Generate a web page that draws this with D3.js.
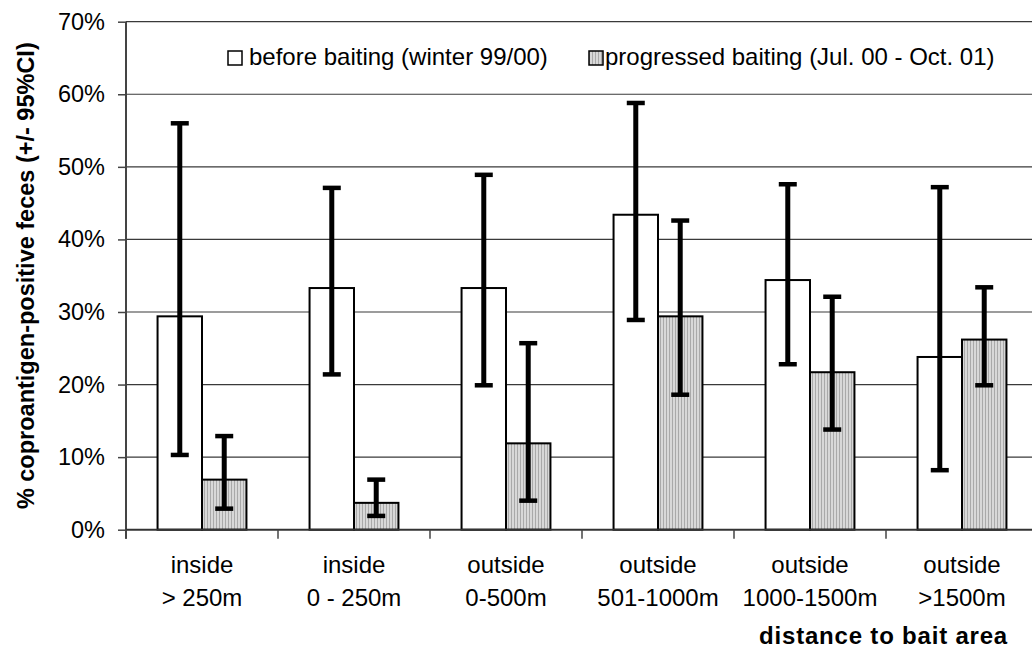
<!DOCTYPE html>
<html>
<head>
<meta charset="utf-8">
<script src="https://cdn.jsdelivr.net/npm/d3@7"></script>
<style>
  html, body { margin: 0; padding: 0; background: #fff; }
  svg text { font-family: "Liberation Sans", Arial, sans-serif; }
</style>
</head>
<body>
<div id="chart"></div>
<script>
// data source
const categories = [
  ["inside", "> 250m"],
  ["inside", "0 - 250m"],
  ["outside", "0-500m"],
  ["outside", "501-1000m"],
  ["outside", "1000-1500m"],
  ["outside", ">1500m"]
];
const seriesNames = ["before baiting (winter 99/00)", "progressed baiting (Jul. 00 - Oct. 01)"];
const before = [29.4, 33.3, 33.3, 43.4, 34.4, 23.8];
const beforeLow = [10.3, 21.4, 19.9, 28.9, 22.8, 8.2];
const beforeHigh = [56.0, 47.1, 48.9, 58.8, 47.6, 47.2];
const after = [6.9, 3.7, 11.9, 29.4, 21.7, 26.2];
const afterLow = [2.9, 1.9, 4.0, 18.6, 13.8, 19.9];
const afterHigh = [12.9, 6.9, 25.7, 42.6, 32.1, 33.4];
const yTicks = [0, 10, 20, 30, 40, 50, 60, 70];

const width = 1032, height = 651;
const margin = { left: 126, top: 21.7, bottom: 121, right: -6 };

const svg = d3.select("#chart").append("svg")
  .attr("width", width)
  .attr("height", height);

const defs = svg.append("defs");
const pat = defs.append("pattern")
  .attr("id", "stripes")
  .attr("patternUnits", "userSpaceOnUse")
  .attr("width", 3)
  .attr("height", 10);
pat.append("rect").attr("width", 3).attr("height", 10).attr("fill", "#d8d8d8");
pat.append("rect").attr("width", 1).attr("height", 10).attr("fill", "#a9a9a9");

const x = d3.scaleBand()
  .domain(d3.range(categories.length))
  .range([margin.left, width - margin.right]);
const xs = d3.scaleBand()
  .domain([0, 1])
  .range([0, x.bandwidth()])
  .paddingOuter(0.71);
const y = d3.scaleLinear()
  .domain([0, 70])
  .range([height - margin.bottom - 0.3, margin.top]);

const rows = categories.map((c, i) => ({
  i,
  vals: [
    { s: 0, v: before[i], lo: beforeLow[i], hi: beforeHigh[i] },
    { s: 1, v: after[i], lo: afterLow[i], hi: afterHigh[i] }
  ]
}));

// gridlines
svg.append("g")
  .selectAll("line")
  .data(yTicks.filter(t => t > 0))
  .enter()
  .append("line")
  .attr("x1", margin.left)
  .attr("x2", width - margin.right)
  .attr("y1", d => y(d))
  .attr("y2", d => y(d))
  .attr("stroke", "#3a3a3a")
  .attr("stroke-width", 1.2);

// bars
const groups = svg.append("g")
  .selectAll("g")
  .data(rows)
  .enter()
  .append("g")
  .attr("transform", d => `translate(${x(d.i)},0)`);

groups.selectAll("rect")
  .data(d => d.vals)
  .enter()
  .append("rect")
  .attr("x", d => xs(d.s))
  .attr("width", xs.bandwidth())
  .attr("y", d => y(d.v))
  .attr("height", d => y(0) - y(d.v))
  .attr("fill", d => d.s === 0 ? "#fff" : "url(#stripes)")
  .attr("stroke", "#000")
  .attr("stroke-width", 2);

// error bars
const err = groups.selectAll("g.err")
  .data(d => d.vals)
  .enter()
  .append("g")
  .attr("class", "err")
  .attr("transform", d => `translate(${xs(d.s) + xs.bandwidth() / 2},0)`);
err.append("line")
  .attr("y1", d => y(d.lo))
  .attr("y2", d => y(d.hi))
  .attr("stroke", "#000")
  .attr("stroke-width", 5);
err.selectAll("line.cap")
  .data(d => [d.lo, d.hi])
  .enter()
  .append("line")
  .attr("class", "cap")
  .attr("x1", -9)
  .attr("x2", 9)
  .attr("y1", d => y(d))
  .attr("y2", d => y(d))
  .attr("stroke", "#000")
  .attr("stroke-width", 4.5);

// y axis
const yAxis = svg.append("g")
  .attr("transform", `translate(${margin.left},0)`)
  .call(d3.axisLeft(y).tickValues(yTicks).tickFormat(d => d + "%").tickSize(8).tickPadding(13));
yAxis.select(".domain").attr("stroke", "#444").attr("stroke-width", 2)
  .attr("d", `M0,${margin.top}V${y(0) + 9}`);
yAxis.selectAll(".tick line").attr("stroke", "#444").attr("stroke-width", 1.5);
yAxis.selectAll(".tick text")
  .attr("font-size", 23.5)
  .attr("font-family", "'Liberation Sans', Arial, sans-serif")
  .attr("fill", "#000");

// x axis
const bounds = d3.range(categories.length + 1).map(i => margin.left + i * x.step());
const xAxis = svg.append("g");
xAxis.append("line")
  .attr("x1", margin.left)
  .attr("x2", width - margin.right)
  .attr("y1", y(0))
  .attr("y2", y(0))
  .attr("stroke", "#333")
  .attr("stroke-width", 2);
xAxis.selectAll("line.tick")
  .data(bounds)
  .enter()
  .append("line")
  .attr("class", "tick")
  .attr("x1", d => d)
  .attr("x2", d => d)
  .attr("y1", y(0))
  .attr("y2", y(0) + 9)
  .attr("stroke", "#444")
  .attr("stroke-width", 1.5);

const labels = xAxis.selectAll("text")
  .data(rows)
  .enter()
  .append("text")
  .attr("text-anchor", "middle")
  .attr("font-size", 24)
  .attr("fill", "#000");
labels.append("tspan")
  .attr("x", d => x(d.i) + x.bandwidth() / 2)
  .attr("y", 573)
  .text(d => categories[d.i][0]);
labels.append("tspan")
  .attr("x", d => x(d.i) + x.bandwidth() / 2)
  .attr("y", 606)
  .text(d => categories[d.i][1]);

// axis titles
svg.append("text")
  .attr("transform", `translate(34,${(y(0) + y(70)) / 2}) rotate(-90)`)
  .attr("text-anchor", "middle")
  .attr("font-size", 23.5)
  .attr("font-weight", "bold")
  .text("% coproantigen-positive feces (+/- 95%CI)");

svg.append("text")
  .attr("x", 1008)
  .attr("y", 644)
  .attr("text-anchor", "end")
  .attr("font-size", 24)
  .attr("font-weight", "bold")
  .attr("letter-spacing", 0.8)
  .text("distance to bait area");

// legend
const legendX = [228, 589];
const legend = svg.append("g")
  .selectAll("g")
  .data(seriesNames)
  .enter()
  .append("g")
  .attr("transform", (d, i) => `translate(${legendX[i]},51)`);
legend.append("rect")
  .attr("width", 14)
  .attr("height", 14)
  .attr("fill", (d, i) => i === 0 ? "#fff" : "url(#stripes)")
  .attr("stroke", "#000")
  .attr("stroke-width", 1.5);
legend.append("text")
  .attr("x", (d, i) => i === 0 ? 21 : 16)
  .attr("y", 14)
  .attr("font-size", 24)
  .text(d => d);
</script>
</body>
</html>
